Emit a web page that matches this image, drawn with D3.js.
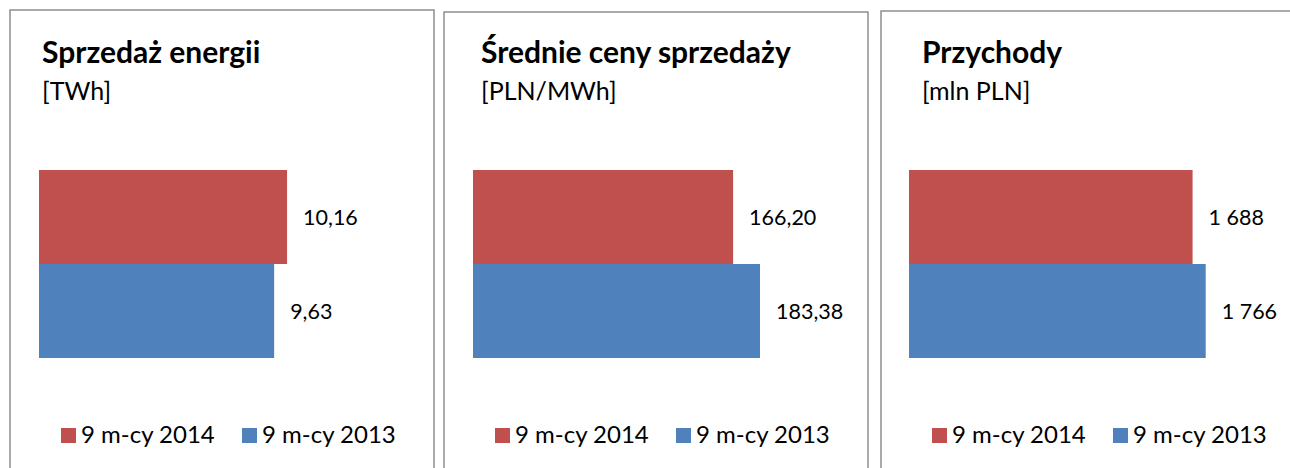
<!DOCTYPE html>
<html>
<head>
<meta charset="utf-8">
<script src="https://cdn.jsdelivr.net/npm/d3@7"></script>
<style>
  body { margin: 0; background: #fff; }
  svg { display: block; font-family: Lato, "Open Sans", sans-serif; }
  .title { font-weight: bold; font-size: 30px; fill: #000; }
  .unit { font-size: 25px; fill: #000; }
  .value-label { font-size: 21.5px; fill: #000; }
  .legend-label { font-size: 24px; fill: #000; }
  .panel-border { fill: #fff; stroke: #8e8e8e; stroke-width: 1.5; }
</style>
</head>
<body>
<svg id="chart" width="1290" height="468"></svg>
<script>
// Data
const seriesNames = ["9 m-cy 2014", "9 m-cy 2013"];
const titles = ["Sprzedaż energii", "Średnie ceny sprzedaży", "Przychody"];
const units = ["[TWh]", "[PLN/MWh]", "[mln PLN]"];
const values2014 = [10.16, 166.20, 1688];
const values2013 = [9.63, 183.38, 1766];
const axisMax = [12, 200, 2000];
const decimals = [2, 2, 0];

// Layout of the three boxes
const panelX = [10, 444, 881];
const panelY = [10, 12, 11];
const panelW = 424;
const titleDx = [32, 37, 41];
const plotDx = [29, 29, 28];
const plotW = [293, 313, 336];

const colors = ["#C0504D", "#4F81BD"];

const pl = d3.formatLocale({ decimal: ",", thousands: " ", grouping: [3], currency: ["", " zł"] });

const svg = d3.select("#chart");

const y = d3.scaleBand()
  .domain(seriesNames)
  .range([170, 358])
  .padding(0);

titles.forEach((title, i) => {
  const g = svg.append("g");
  const x0 = panelX[i];

  g.append("rect")
    .attr("class", "panel-border")
    .attr("x", x0)
    .attr("y", panelY[i])
    .attr("width", panelW)
    .attr("height", 480);

  g.append("text")
    .attr("class", "title")
    .attr("x", x0 + titleDx[i])
    .attr("y", 63)
    .text(title);

  g.append("text")
    .attr("class", "unit")
    .attr("x", x0 + titleDx[i])
    .attr("y", 100)
    .text(units[i]);

  const x = d3.scaleLinear()
    .domain([0, axisMax[i]])
    .range([x0 + plotDx[i], x0 + plotDx[i] + plotW[i]]);

  const fmt = pl.format(",." + decimals[i] + "f");
  const rows = [
    { name: seriesNames[0], value: values2014[i], color: colors[0] },
    { name: seriesNames[1], value: values2013[i], color: colors[1] }
  ];

  g.selectAll(".bar").data(rows)
    .enter().append("rect")
      .attr("class", "bar")
      .attr("x", x(0))
      .attr("y", d => y(d.name))
      .attr("width", d => x(d.value) - x(0))
      .attr("height", y.bandwidth())
      .attr("fill", d => d.color);

  g.selectAll(".value-label").data(rows)
    .enter().append("text")
      .attr("class", "value-label")
      .attr("x", d => x(d.value) + 16)
      .attr("y", d => y(d.name) + y.bandwidth() / 2)
      .attr("dy", "0.36em")
      .text(d => fmt(d.value));

  // Legend
  const legendX = x0 + 51;
  const items = g.selectAll(".legend-item").data(rows)
    .enter().append("g")
      .attr("class", "legend-item")
      .attr("transform", (d, j) => `translate(${legendX + j * 181}, 428)`);

  items.append("rect")
    .attr("width", 15)
    .attr("height", 15)
    .attr("fill", d => d.color);

  items.append("text")
    .attr("class", "legend-label")
    .attr("x", 20)
    .attr("y", 15)
    .text(d => d.name);
});
</script>
</body>
</html>
